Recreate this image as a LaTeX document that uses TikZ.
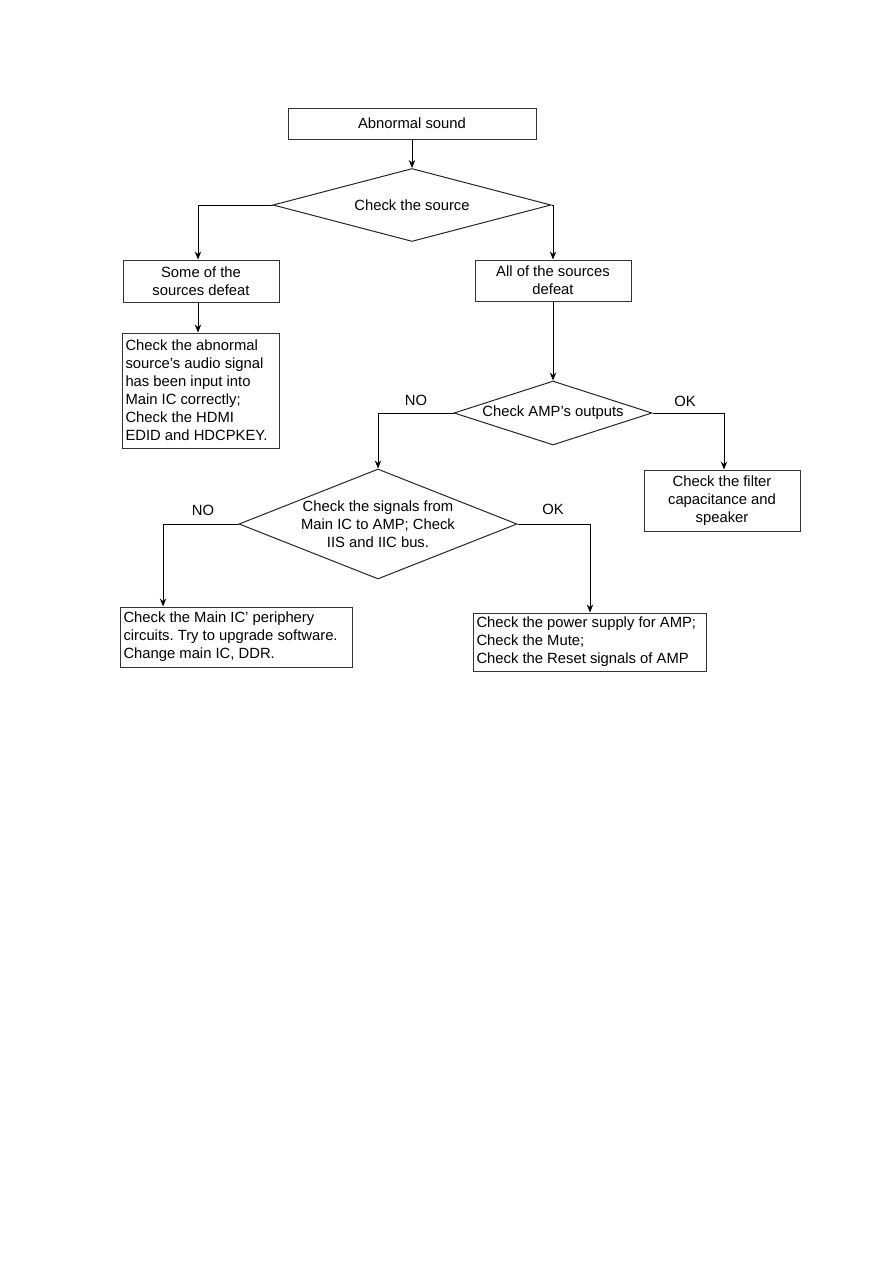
\documentclass[tikz,border=0pt]{standalone}
\usepackage{fontspec}
\setmainfont{Liberation Sans}
\usetikzlibrary{shapes.geometric,arrows.meta,calc}
\begin{document}
\frenchspacing
\begin{tikzpicture}[x=0.75pt,y=-0.75pt,
  every node/.style={font=\fontsize{11.1}{13.5}\selectfont\frenchspacing, text=black},
  box/.style={draw=black!80, line width=0.75pt, rectangle, inner sep=0pt, align=center},
  lbox/.style={draw=black!80, line width=0.75pt, rectangle, inner xsep=2.2pt, inner ysep=0pt, align=flush left},
  dia/.style={draw=black!85, line width=0.75pt, diamond, inner sep=0pt},
  conn/.style={draw=black, line width=0.75pt, -{Stealth[length=6pt,width=4.8pt]}},
  tag/.style={inner sep=0pt}
]
\useasboundingbox (0,0) rectangle (893,1263);
\fill[white] (0,0) rectangle (893,1263);

\node[box, minimum width=248*0.75pt, minimum height=31*0.75pt] (top) at (412,123.5) {Abnormal sound};
\node[dia, minimum width=278*0.75pt, minimum height=73*0.75pt,
  label={[align=center]center:Check the source}] (src) at (412,205) {};
\node[box, minimum width=156*0.75pt, minimum height=42*0.75pt] (some) at (201,281) {Some of the\\sources defeat};
\node[box, minimum width=156*0.75pt, minimum height=41*0.75pt] (all) at (553,280.5) {All of the sources\\defeat};
\node[lbox, text width=151*0.75pt, minimum height=115*0.75pt] (abn) at (201,390.5)
  {Check the abnormal\\source's audio signal\\has been input into\\Main IC correctly;\\Check the HDMI\\EDID and HDCPKEY.};
\node[dia, minimum width=198*0.75pt, minimum height=64*0.75pt,
  label={[align=center]center:Check AMP's outputs}] (amp) at (553,413) {};
\node[box, minimum width=156*0.75pt, minimum height=61*0.75pt] (filter) at (722,500.5)
  {Check the filter\\capacitance and\\speaker};
\node[dia, minimum width=278*0.75pt, minimum height=110*0.75pt,
  label={[align=center]center:Check the signals from\\Main IC to AMP; Check\\IIS and IIC bus.}] (sig) at (378,524) {};
\node[lbox, text width=226*0.75pt, minimum height=60*0.75pt] (main) at (236.5,637)
  {Check the Main IC' periphery\\circuits. Try to upgrade software.\\Change main IC, DDR.};
\node[lbox, text width=227*0.75pt, minimum height=58*0.75pt] (power) at (590,642)
  {Check the power supply for AMP;\\Check the Mute;\\Check the Reset signals of AMP};

\coordinate (mainin) at ($(main.north west)+(43,0)$);

\draw[conn] (top.south) -- (src.north);
\draw[conn] (src.west) -| ($(some.north)+(-3,0)$);
\draw[conn] (src.east) -| (all.north);
\draw[conn] ($(some.south)+(-3,0)$) -- ($(abn.north)+(-3,0)$);
\draw[conn] (all.south) -- (amp.north);
\draw[conn] (amp.west) -| (sig.north);
\draw[conn] (amp.east) -| ($(filter.north)+(2,0)$);
\draw[conn] (sig.west) -| (mainin);
\draw[conn] (sig.east) -| (power.north);

\node[tag] (no1) at (416,400) {NO};
\node[tag] (ok1) at (685,401) {OK};
\node[tag] (no2) at (203,510) {NO};
\node[tag] (ok2) at (553,509) {OK};
\end{tikzpicture}
\end{document}
